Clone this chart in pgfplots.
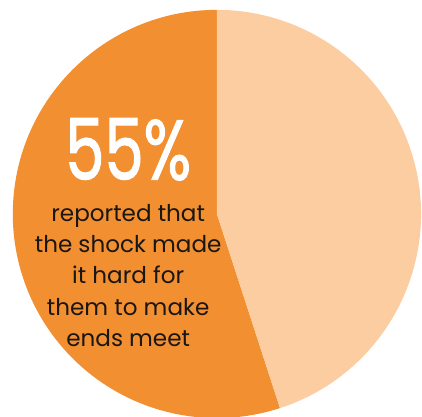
\documentclass[border=0pt]{standalone}
\usepackage{pgfplots}
\pgfplotsset{compat=1.18}
\usepackage{pgfplotstable}
\usepackage{fontspec}
\setmainfont{Poppins}
\newfontfamily\numfont{Poppins}[FakeBold=1.6]
\definecolor{darkor}{RGB}{242,143,48}
\definecolor{lightor}{RGB}{252,205,161}
\definecolor{txt}{RGB}{26,22,20}
\pgfplotstableread{
label value
reported 55
other 45
}\piedata
\begin{document}
\pgfplotstablegetelem{0}{value}\of\piedata
\pgfmathtruncatemacro\va{\pgfplotsretval}
\pgfmathsetmacro\aend{90+3.6*\va}
\pgfmathsetmacro\bend{450}
\begin{tikzpicture}
\path[use as bounding box] (0,0) rectangle (420bp,422bp);
\begin{axis}[
  at={(0,0)}, anchor=south west,
  x=1bp, y=1bp,
  xmin=0, xmax=420, ymin=0, ymax=422,
  hide axis, clip=true,
]
\fill[darkor] (axis cs:212,205) -- ++(90:207bp) arc[start angle=90, end angle=\aend, radius=207bp] -- cycle;
\fill[lightor] (axis cs:212,205) -- ++(\aend:207bp) arc[start angle=\aend, end angle=\bend, radius=207bp] -- cycle;
\node[white, font=\numfont\fontsize{86}{86}\selectfont, anchor=base, inner sep=0pt, text depth=0pt, xscale=0.74, transform shape] at (axis cs:122,240) {\va\%};
\node[txt, font=\fontsize{23.5}{31.8}\selectfont, align=center, anchor=north, inner sep=0pt] at (axis cs:122,215) {reported that\\the shock made\\it hard for\\them to make\\ends meet};
\end{axis}
\end{tikzpicture}
\end{document}
